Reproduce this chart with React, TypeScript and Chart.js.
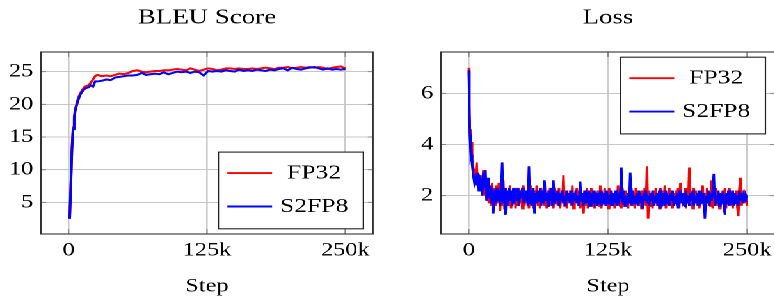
import React, { useEffect, useRef } from 'react';
import { Chart, registerables } from 'chart.js';

Chart.register(...registerables);

// horizontal stretch of the reference figure
const S = 1.28;
const FONT = "'Liberation Serif', 'Times New Roman', Times, serif";

const seriesNames = ['FP32', 'S2FP8'];
const seriesColors = ['#ff0000', '#0000ff'];

const xTicks = [0, 125, 250];
const bleuTicks = [5, 10, 15, 20, 25];
const lossTicks = [2, 4, 6];

// steps in thousands
const bleuSteps = [
  1, 2, 3, 4, 5, 6, 8, 10, 12, 14, 16, 18, 20, 22, 24,
  26, 30, 34, 38, 42, 46, 50, 54, 58, 62,
  66, 70, 74, 78, 82, 86, 90, 94, 98, 102,
  106, 110, 114, 118, 122, 126, 130, 134, 138, 142,
  146, 150, 154, 158, 162, 166, 170, 174, 178, 182,
  186, 190, 194, 198, 202, 206, 210, 214, 218, 222,
  226, 230, 234, 238, 242, 246, 250,
];
const bleuFP32 = [
  2.5, 8.0, 13.5, 16.5, 18.2, 19.3, 20.6, 21.5, 22.1, 22.6, 22.8, 22.9, 23.3, 23.8, 24.3,
  24.5, 24.3, 24.4, 24.3, 24.5, 24.7, 24.6, 24.8, 25.1, 25.2,
  25.0, 24.9, 25.0, 25.1, 25.1, 25.2, 25.2, 25.3, 25.4, 25.3,
  25.2, 25.5, 25.3, 25.1, 25.3, 25.5, 25.4, 25.2, 25.3, 25.5,
  25.5, 25.4, 25.5, 25.4, 25.4, 25.5, 25.4, 25.5, 25.6, 25.5,
  25.4, 25.6, 25.6, 25.7, 25.5, 25.6, 25.7, 25.6, 25.7, 25.6,
  25.7, 25.6, 25.4, 25.6, 25.7, 25.8, 25.5,
];
const bleuS2FP8 = [
  2.5, 7.5, 13.0, 16.2, 17.8, 19.0, 20.3, 21.3, 21.9, 22.3, 22.5, 22.6, 22.9, 22.7, 23.5,
  23.5, 23.6, 23.8, 23.7, 24.1, 24.2, 24.3, 24.4, 24.4, 24.5,
  24.8, 24.5, 24.6, 24.7, 24.6, 24.9, 24.6, 24.8, 25.0, 24.9,
  25.0, 24.8, 25.0, 24.9, 24.4, 25.1, 25.0, 25.1, 25.0, 25.2,
  25.1, 25.0, 25.3, 25.1, 25.2, 25.1, 25.3, 25.2, 25.1, 25.3,
  25.2, 25.4, 25.5, 25.2, 25.6, 25.4, 25.3, 25.5, 25.6, 25.7,
  25.5, 25.3, 25.5, 25.3, 25.4, 25.3, 25.4,
];

const lossSteps = [
  0, 0.5, 1, 1.5, 2, 2.5, 3, 4, 5, 6, 7, 8, 9, 10,
  11, 12, 13, 14, 15, 16, 17, 18, 19, 20,
  21, 22, 23, 24, 25, 26, 27, 28, 29, 30,
  31, 32, 33, 34, 35, 36, 37, 38, 39, 40,
  41, 42, 43, 44, 45, 46, 47, 48, 49, 50,
  51, 52, 53, 54, 55, 56, 57, 58, 59, 60,
  61, 62, 63, 64, 65, 66, 67, 68, 69, 70,
  71, 72, 73, 74, 75, 76, 77, 78, 79, 80,
  81, 82, 83, 84, 85, 86, 87, 88, 89, 90,
  91, 92, 93, 94, 95, 96, 97, 98, 99, 100,
  101, 102, 103, 104, 105, 106, 107, 108, 109, 110,
  111, 112, 113, 114, 115, 116, 117, 118, 119, 120,
  121, 122, 123, 124, 125, 126, 127, 128, 129, 130,
  131, 132, 133, 134, 135, 136, 137, 138, 139, 140,
  141, 142, 143, 144, 145, 146, 147, 148, 149, 150,
  151, 152, 153, 154, 155, 156, 157, 158, 159, 160,
  161, 162, 163, 164, 165, 166, 167, 168, 169, 170,
  171, 172, 173, 174, 175, 176, 177, 178, 179, 180,
  181, 182, 183, 184, 185, 186, 187, 188, 189, 190,
  191, 192, 193, 194, 195, 196, 197, 198, 199, 200,
  201, 202, 203, 204, 205, 206, 207, 208, 209, 210,
  211, 212, 213, 214, 215, 216, 217, 218, 219, 220,
  221, 222, 223, 224, 225, 226, 227, 228, 229, 230,
  231, 232, 233, 234, 235, 236, 237, 238, 239, 240,
  241, 242, 243, 244, 245, 246, 247, 248, 249, 250,
];
const lossFP32 = [
  7.0, 5.6, 4.6, 4.1, 3.7, 4.1, 3.4, 3.1, 2.9, 2.6, 3.3, 2.4, 2.7, 2.3,
  2.8, 2.1, 3.0, 2.0, 2.6, 1.8, 2.4, 1.7, 2.2, 1.6,
  2.5, 1.5, 2.3, 1.6, 2.4, 1.7, 2.5, 1.4, 2.2, 1.6,
  2.6, 1.5, 2.3, 1.7, 2.1, 1.6, 2.4, 1.5, 2.2, 1.7,
  2.3, 1.5, 2.1, 1.6, 2.3, 1.7, 2.2, 1.5, 2.4, 1.6,
  2.1, 1.7, 2.2, 1.5, 2.4, 1.6, 2.3, 1.5, 2.2, 1.7,
  2.4, 1.6, 2.1, 1.5, 2.3, 1.7, 2.2, 1.6, 2.1, 1.5,
  2.2, 1.7, 2.3, 1.6, 2.1, 1.5, 2.3, 1.7, 2.2, 1.6,
  2.3, 1.5, 2.1, 1.7, 2.8, 1.6, 2.2, 1.5, 2.1, 1.7,
  2.2, 1.6, 2.4, 1.5, 2.1, 1.7, 2.3, 1.6, 2.2, 1.5,
  2.1, 1.7, 1.3, 2.2, 1.6, 2.3, 1.5, 2.1, 1.7, 2.3,
  1.6, 2.2, 1.5, 2.1, 1.7, 2.2, 1.6, 2.4, 1.5, 2.1,
  1.7, 2.3, 1.6, 2.1, 1.5, 2.3, 1.7, 2.2, 1.6, 2.1,
  1.5, 2.2, 1.7, 2.4, 1.6, 2.1, 1.5, 2.3, 1.7, 2.2,
  1.6, 2.1, 1.5, 2.2, 1.7, 2.3, 1.6, 2.1, 1.5, 2.3,
  1.7, 2.2, 1.6, 2.1, 1.5, 2.2, 1.7, 2.3, 1.6, 3.15,
  1.1, 2.2, 1.6, 2.1, 1.5, 2.2, 1.7, 2.3, 1.6, 2.1,
  1.5, 2.3, 1.7, 2.2, 1.6, 2.4, 1.5, 2.1, 1.7, 2.3,
  1.6, 2.2, 1.5, 2.1, 1.7, 2.2, 1.6, 2.3, 1.5, 2.5,
  1.7, 2.1, 1.6, 2.3, 1.5, 2.2, 1.7, 3.1, 1.6, 2.1,
  1.5, 2.3, 1.7, 2.2, 1.6, 2.1, 1.5, 2.2, 1.7, 2.4,
  1.6, 2.1, 1.5, 2.3, 1.7, 2.2, 1.6, 2.6, 1.5, 2.1,
  1.7, 2.3, 1.6, 2.2, 1.5, 2.1, 1.7, 2.2, 1.6, 2.3,
  1.5, 2.1, 1.7, 2.3, 1.6, 2.2, 1.5, 2.1, 1.7, 2.2,
  1.6, 1.2, 2.3, 2.7, 1.6, 2.2, 1.7, 2.0, 2.0, 1.6,
];
const lossS2FP8 = [
  6.9, 5.2, 4.4, 3.9, 3.5, 3.6, 3.2, 2.8, 2.5, 2.7, 2.4, 2.9, 2.2, 2.7,
  2.6, 2.0, 2.9, 2.3, 3.0, 1.8, 2.7, 1.9, 2.4, 1.7,
  2.3, 1.3, 2.2, 1.7, 2.3, 1.8, 2.2, 1.6, 2.1, 3.3,
  1.7, 2.3, 1.25, 2.2, 1.6, 2.3, 1.8, 2.2, 1.6, 2.3,
  1.7, 2.2, 1.8, 2.3, 1.6, 2.2, 1.9, 2.3, 1.7, 2.1,
  1.8, 2.2, 1.6, 3.15, 1.7, 2.2, 1.6, 2.3, 1.3, 2.1,
  1.7, 2.2, 1.8, 2.3, 1.6, 2.2, 1.7, 2.6, 1.8, 2.1,
  1.6, 2.2, 1.8, 2.3, 1.6, 2.6, 1.7, 2.1, 1.8, 2.2,
  1.6, 2.1, 1.8, 2.2, 1.7, 2.0, 1.6, 2.2, 1.8, 2.1,
  1.7, 2.2, 1.6, 2.1, 1.8, 2.2, 1.7, 2.0, 1.6, 2.55,
  1.8, 2.1, 1.6, 2.2, 1.7, 2.0, 1.8, 2.2, 1.6, 2.1,
  1.7, 2.2, 1.8, 2.0, 1.6, 2.1, 1.7, 2.2, 1.6, 2.0,
  1.8, 2.1, 1.6, 2.2, 1.7, 2.0, 1.8, 2.2, 1.6, 2.1,
  1.7, 2.2, 1.6, 2.0, 1.8, 2.1, 3.1, 1.7, 2.2, 1.6,
  2.0, 1.8, 2.1, 1.7, 2.9, 1.6, 2.2, 1.7, 2.0, 1.8,
  2.1, 1.6, 2.2, 1.7, 2.0, 1.5, 2.1, 1.8, 2.2, 1.7,
  2.0, 1.6, 2.1, 1.8, 2.2, 1.6, 2.0, 1.7, 2.1, 1.6,
  2.2, 1.5, 2.0, 1.8, 2.1, 1.6, 2.2, 1.7, 2.0, 1.6,
  2.1, 1.8, 2.2, 1.6, 2.0, 1.7, 2.1, 1.5, 2.2, 1.7,
  2.0, 1.8, 2.1, 1.6, 2.2, 1.7, 2.0, 1.6, 2.1, 1.8,
  2.2, 1.6, 2.0, 1.7, 2.1, 1.6, 2.2, 1.8, 2.0, 1.7,
  2.1, 1.1, 2.0, 1.7, 2.2, 1.6, 2.1, 1.8, 2.2, 2.85,
  1.6, 2.0, 1.7, 2.2, 1.6, 2.1, 1.8, 2.0, 1.6, 1.25,
  2.1, 1.7, 2.2, 1.6, 2.0, 1.8, 2.2, 1.6, 2.1, 1.7,
  2.0, 1.6, 2.2, 1.8, 2.1, 1.7, 2.0, 1.8, 2.0, 1.9,
];

// plot frame + inner tick marks (pgfplots style)
const framePlugin = {
  id: 'frame',
  afterDatasetsDraw(chart: any) {
    const { ctx, chartArea: a, scales } = chart;
    ctx.save();
    ctx.strokeStyle = '#8a8a8a';
    ctx.lineWidth = 1;
    const tx = 4;
    const ty = 5;
    scales.x.ticks.forEach((t: any) => {
      const px = scales.x.getPixelForValue(t.value);
      ctx.beginPath();
      ctx.moveTo(px, a.bottom);
      ctx.lineTo(px, a.bottom - ty);
      ctx.moveTo(px, a.top);
      ctx.lineTo(px, a.top + ty);
      ctx.stroke();
    });
    scales.y.ticks.forEach((t: any) => {
      const py = scales.y.getPixelForValue(t.value);
      ctx.beginPath();
      ctx.moveTo(a.left, py);
      ctx.lineTo(a.left + tx, py);
      ctx.moveTo(a.right, py);
      ctx.lineTo(a.right - tx, py);
      ctx.stroke();
    });
    ctx.strokeStyle = '#333333';
    ctx.lineWidth = 1.1;
    ctx.strokeRect(a.left, a.top, a.right - a.left, a.bottom - a.top);
    ctx.restore();
  },
};

// boxed legend inside the plot
const boxLegendPlugin = {
  id: 'boxLegend',
  afterDraw(chart: any, _args: any, opts: any) {
    const { ctx, chartArea: a } = chart;
    const w = opts.width;
    const h = opts.height;
    const x = a.right - opts.marginX - w;
    const y = opts.corner === 'se' ? a.bottom - opts.marginY - h : a.top + opts.marginY;
    ctx.save();
    ctx.fillStyle = '#ffffff';
    ctx.fillRect(x, y, w, h);
    ctx.strokeStyle = '#222222';
    ctx.lineWidth = 1.1;
    ctx.strokeRect(x, y, w, h);
    chart.data.datasets.forEach((ds: any, i: number) => {
      const ry = y + opts.rowY[i];
      ctx.strokeStyle = ds.borderColor;
      ctx.lineWidth = 1.9;
      ctx.beginPath();
      ctx.moveTo(x + opts.lineX0, ry);
      ctx.lineTo(x + opts.lineX1, ry);
      ctx.stroke();
      ctx.fillStyle = '#000000';
      ctx.font = `${opts.fontSize}px ${FONT}`;
      ctx.textAlign = 'center';
      ctx.textBaseline = 'middle';
      ctx.fillText(ds.label, x + opts.textX, ry);
    });
    ctx.restore();
  },
};

function buildConfig(p: {
  title: string;
  steps: number[];
  a: number[];
  b: number[];
  yMin: number;
  yMax: number;
  yTicks: number[];
  yWidth: number;
  padRight: number;
  corner: 'se' | 'ne';
  lineWidth: number;
}): any {
  const tickFont = { family: FONT, size: 19 };
  return {
    type: 'line',
    data: {
      datasets: [
        {
          label: seriesNames[0],
          data: p.steps.map((s, i) => ({ x: s, y: p.a[i] })),
          borderColor: seriesColors[0],
          borderWidth: p.lineWidth,
          pointRadius: 0,
          tension: 0,
          order: 1,
        },
        {
          label: seriesNames[1],
          data: p.steps.map((s, i) => ({ x: s, y: p.b[i] })),
          borderColor: seriesColors[1],
          borderWidth: p.lineWidth,
          pointRadius: 0,
          tension: 0,
          order: 0,
        },
      ],
    },
    options: {
      responsive: false,
      animation: false,
      devicePixelRatio: 2,
      layout: { padding: { left: 0, right: p.padRight, top: 0, bottom: 0 } },
      plugins: {
        legend: { display: false },
        tooltip: { enabled: false },
        title: {
          display: true,
          text: p.title,
          fullSize: false,
          color: '#000',
          font: { family: FONT, size: 21, weight: 'normal', lineHeight: 1.2 },
          padding: { top: 5.4, bottom: 21.4 },
        },
        boxLegend: {
          corner: p.corner,
          width: 113.3,
          height: 76.7,
          marginX: 7.5,
          marginY: 5.2,
          rowY: [21, 54.4],
          lineX0: 7,
          lineX1: 42,
          textX: 74.8,
          fontSize: 20,
        },
      },
      scales: {
        x: {
          type: 'linear',
          min: -25,
          max: 275,
          afterBuildTicks: (s: any) => {
            s.ticks = xTicks.map((v) => ({ value: v }));
          },
          afterFit: (s: any) => {
            s.height = 64;
          },
          grid: { color: '#cccccc', lineWidth: 1.3, drawTicks: false },
          border: { color: '#333333', width: 1 },
          ticks: {
            font: tickFont,
            color: '#000',
            padding: 5.1,
            maxRotation: 0,
            autoSkip: false,
            callback: (v: any) => (v === 0 ? '0' : `${v}k`),
          },
          title: {
            display: true,
            text: 'Step',
            color: '#000',
            font: { family: FONT, size: 19 },
            padding: { top: 0, bottom: 0 },
          },
        },
        y: {
          type: 'linear',
          min: p.yMin,
          max: p.yMax,
          afterBuildTicks: (s: any) => {
            s.ticks = p.yTicks.map((v) => ({ value: v }));
          },
          afterFit: (s: any) => {
            s.width = p.yWidth;
          },
          grid: { color: '#c6c6c6', lineWidth: 1, drawTicks: false },
          border: { color: '#333333', width: 1 },
          ticks: {
            font: tickFont,
            color: '#000',
            padding: 6,
          },
        },
      },
    },
    plugins: [framePlugin, boxLegendPlugin],
  };
}

const LW = 302;
const RW = 312;

export default function App() {
  const leftRef = useRef<HTMLCanvasElement>(null);
  const rightRef = useRef<HTMLCanvasElement>(null);

  useEffect(() => {
    document.body.style.margin = '0';
    let cancelled = false;
    const charts: Chart[] = [];
    const make = () => {
      if (cancelled) return;
      charts.push(
        new Chart(
          leftRef.current as HTMLCanvasElement,
          buildConfig({
            title: 'BLEU Score',
            steps: bleuSteps,
            a: bleuFP32,
            b: bleuS2FP8,
            yMin: 0.17,
            yMax: 28.0,
            yTicks: bleuTicks,
            yWidth: 32.0,
            padRight: LW - 291.4,
            corner: 'se',
            lineWidth: 2.0,
          })
        )
      );
      charts.push(
        new Chart(
          rightRef.current as HTMLCanvasElement,
          buildConfig({
            title: 'Loss',
            steps: lossSteps,
            a: lossFP32,
            b: lossS2FP8,
            yMin: 0.5,
            yMax: 7.62,
            yTicks: lossTicks,
            yWidth: 42.5,
            padRight: RW - 303.5,
            corner: 'ne',
            lineWidth: 1.9,
          })
        )
      );
    };
    const fonts: any = (document as any).fonts;
    if (fonts && fonts.load) {
      Promise.all([
        fonts.load("19px 'Liberation Serif'"),
        fonts.load("21px 'Liberation Serif'"),
      ])
        .catch(() => null)
        .then(make);
    } else {
      make();
    }
    return () => {
      cancelled = true;
      charts.forEach((c) => c.destroy());
    };
  }, []);

  return (
    <div style={{ position: 'relative', width: 774, height: 298, overflow: 'hidden', background: '#fff' }}>
      <span style={{ position: 'absolute', left: 0, top: 0, opacity: 0, fontFamily: FONT, fontSize: 19 }}>
        Step
      </span>
      <div
        style={{
          position: 'absolute',
          left: 0,
          top: 0,
          width: LW + RW,
          height: 298,
          transform: `scaleX(${S})`,
          transformOrigin: '0 0',
        }}
      >
        <div style={{ position: 'absolute', left: 0, top: 0, width: LW, height: 298 }}>
          <canvas ref={leftRef} width={LW} height={298} style={{ display: 'block' }} />
        </div>
        <div style={{ position: 'absolute', left: LW, top: 0, width: RW, height: 298 }}>
          <canvas ref={rightRef} width={RW} height={298} style={{ display: 'block' }} />
        </div>
      </div>
    </div>
  );
}
